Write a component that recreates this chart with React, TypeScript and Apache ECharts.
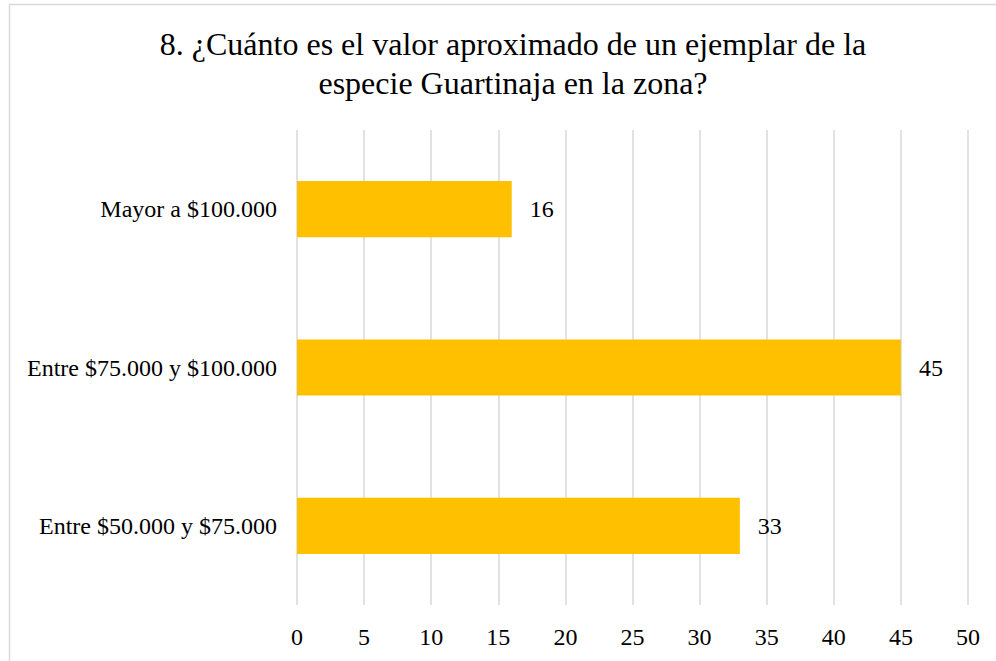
import React, { useEffect, useRef } from "react";
import * as echarts from "echarts";

const categories = ["Entre $50.000 y $75.000", "Entre $75.000 y $100.000", "Mayor a $100.000"];
const values = [33, 45, 16];
const titleLines = [
  "8. ¿Cuánto es el valor aproximado de un ejemplar de la",
  "especie Guartinaja en la zona?",
];

export default function App() {
  const ref = useRef<HTMLDivElement>(null);
  useEffect(() => {
    if (!ref.current) return;
    const chart = echarts.init(ref.current, null, { renderer: "svg" });
    const font = "Liberation Serif";
    chart.setOption({
      animation: false,
      backgroundColor: "#ffffff",
      textStyle: { fontFamily: font },
      graphic: [
        {
          type: "rect",
          shape: { x: 9.5, y: 4.5, width: 1100, height: 800 },
          style: { fill: "none", stroke: "#d9d9d9", lineWidth: 1.5 },
          silent: true,
        },
        ...titleLines.map((t, i) => ({
          type: "text",
          x: 513,
          y: 44 + i * 39,
          style: {
            text: t,
            fontFamily: font,
            fontSize: 32,
            fill: "#000",
            align: "center",
            verticalAlign: "middle",
          },
          silent: true,
        })),
      ],
      grid: { left: 297, right: 28, top: 130, bottom: 56 },
      xAxis: {
        type: "value",
        min: 0,
        max: 50,
        interval: 5,
        axisLine: { show: false },
        axisTick: { show: false },
        axisLabel: { fontFamily: font, fontSize: 24, color: "#000", margin: 20 },
        splitLine: { show: true, lineStyle: { color: "#d9d9d9", width: 1.5 } },
      },
      yAxis: {
        type: "category",
        data: categories,
        axisLine: { show: false },
        axisTick: { show: false },
        axisLabel: { fontFamily: font, fontSize: 24, color: "#000", margin: 20 },
      },
      series: [
        {
          type: "bar",
          data: values,
          barWidth: "35.5%",
          itemStyle: { color: "#FFC000" },
          label: {
            show: true,
            position: "right",
            distance: 18,
            fontFamily: font,
            fontSize: 24,
            color: "#000",
          },
        },
      ],
    });
    return () => chart.dispose();
  }, []);
  return <div ref={ref} style={{ position: "fixed", left: 0, top: 0, width: 996, height: 661 }} />;
}
